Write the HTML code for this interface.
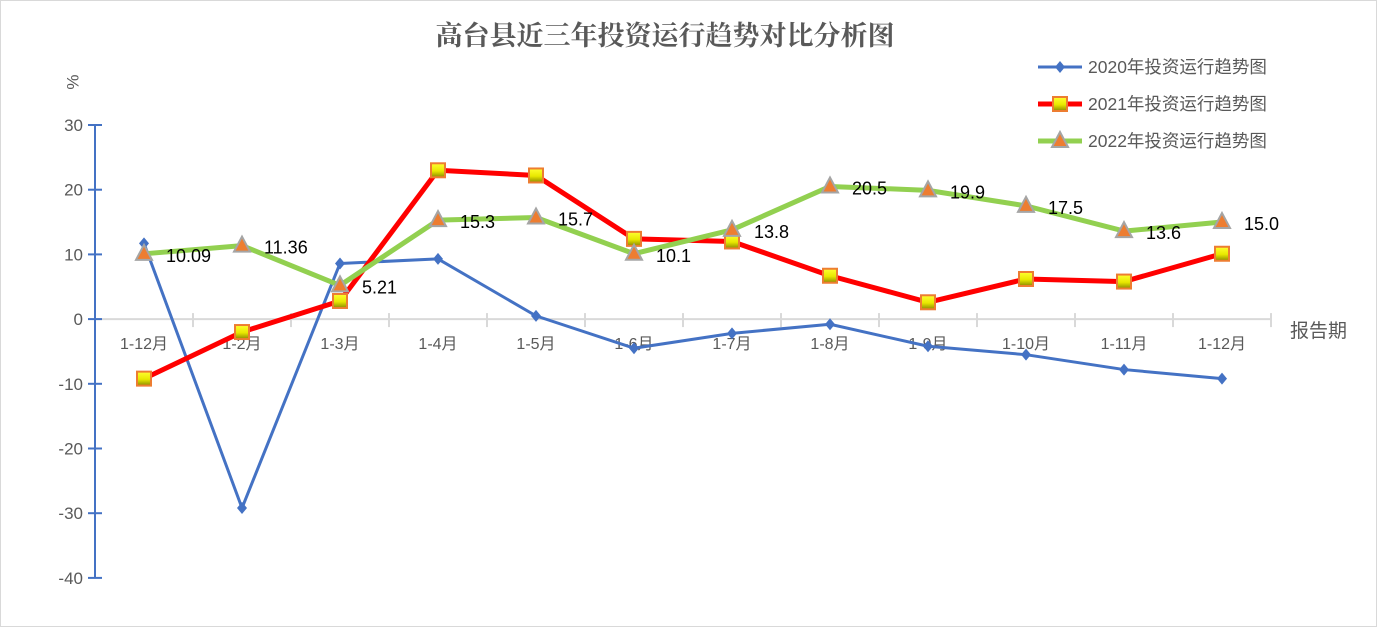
<!DOCTYPE html>
<html><head><meta charset="utf-8"><style>
body{margin:0;background:#fff}
svg{display:block;font-family:"Liberation Sans","Noto Sans CJK SC",sans-serif}
</style></head><body>
<svg width="1377" height="627">
<defs>
<linearGradient id="sq" x1="0" y1="0" x2="0" y2="1"><stop offset="0" stop-color="#ffff30"/><stop offset="0.55" stop-color="#e8e800"/><stop offset="1" stop-color="#8a8a00"/></linearGradient>
</defs>
<rect x="0.5" y="0.5" width="1376" height="626" fill="#fff" stroke="#d9d9d9"/>
<text x="665" y="45" text-anchor="middle" font-size="27" font-weight="bold" fill="#595959" font-family="'Liberation Serif','Noto Serif CJK SC',serif">高台县近三年投资运行趋势对比分析图</text>
<text x="74" y="82" font-size="17" fill="#595959" transform="rotate(-90 74 82)" text-anchor="middle" dominant-baseline="middle">%</text>
<text x="1290" y="337" font-size="19" fill="#595959">报告期</text>
<g id="axes"></g>
<g id="series"></g>
<g id="legend"></g>
</svg>
<script>
const categories=["1-12月","1-2月","1-3月","1-4月","1-5月","1-6月","1-7月","1-8月","1-9月","1-10月","1-11月","1-12月"];
const s2020=[11.7,-29.2,8.6,9.3,0.5,-4.5,-2.2,-0.8,-4.2,-5.5,-7.8,-9.2];
const s2021=[-9.2,-2.0,2.8,23.0,22.2,12.4,12.0,6.7,2.6,6.2,5.8,10.1];
const s2022=[10.09,11.36,5.21,15.3,15.7,10.1,13.8,20.5,19.9,17.5,13.6,15.0];
const labels2022=["10.09","11.36","5.21","15.3","15.7","10.1","13.8","20.5","19.9","17.5","13.6","15.0"];
const yTicks=[30,20,10,0,-10,-20,-30,-40];
const legendNames=["2020年投资运行趋势图","2021年投资运行趋势图","2022年投资运行趋势图"];
const NS="http://www.w3.org/2000/svg";
const y=v=>319.1-v*6.47;
const x0=95,step=98;
const x=i=>x0+step*(i+0.5);
function mk(tag,at,parent){const e=document.createElementNS(NS,tag);for(const k in at)e.setAttribute(k,at[k]);parent.appendChild(e);return e;}
const ax=document.getElementById('axes'),se=document.getElementById('series'),lg=document.getElementById('legend');
let e=mk('line',{x1:x0,y1:y(0),x2:x0+step*categories.length,y2:y(0),stroke:'#d9d9d9','stroke-width':2},ax);

for(let i=0;i<=categories.length;i++){e=mk('line',{x1:x0+step*i,y1:y(0)-6,x2:x0+step*i,y2:y(0)+8,stroke:'#d9d9d9','stroke-width':2},ax);
}
categories.forEach((c,i)=>{e=mk('text',{x:x(i),y:349,'text-anchor':'middle','font-size':16,fill:'#595959'},ax);e.textContent=c;
});
e=mk('line',{x1:x0,y1:y(30),x2:x0,y2:y(-40),stroke:'#4472c4','stroke-width':2},ax);

yTicks.forEach(v=>{e=mk('line',{x1:x0-7,y1:y(v),x2:x0+7,y2:y(v),stroke:'#4472c4','stroke-width':2},ax);

e=mk('text',{x:83,y:y(v)+6,'text-anchor':'end','font-size':17,fill:'#595959'},ax);e.textContent=v;
});
function line(vals,color,w,name){const p=vals.map((v,i)=>x(i)+','+y(v)).join(' ');
const l=mk('polyline',{points:p,fill:'none',stroke:color,'stroke-width':w,'stroke-linejoin':'round'},se);
}
function diamond(cx,cy,g){return mk('path',{d:`M${cx} ${cy-6}L${cx+5} ${cy}L${cx} ${cy+6}L${cx-5} ${cy}Z`,fill:'#4472c4'},g);}
function square(cx,cy,g){return mk('rect',{x:cx-7,y:cy-7,width:14,height:14,fill:'url(#sq)',stroke:'#ed7d31','stroke-width':2},g);}
function tri(cx,cy,g){return mk('path',{d:`M${cx} ${cy-9}L${cx+8} ${cy+6}L${cx-8} ${cy+6}Z`,fill:'#ed7d31',stroke:'#a5a5a5','stroke-width':2},g);}
line(s2020,'#4472c4',3,'line-2020');
line(s2021,'#ff0000',5,'line-2021');
line(s2022,'#92d050',5,'line-2022');
s2020.forEach((v,i)=>{const m=diamond(x(i),y(v),se);});
s2021.forEach((v,i)=>{const m=square(x(i),y(v),se);});
s2022.forEach((v,i)=>{const m=tri(x(i),y(v),se);
const t=mk('text',{x:x(i)+22,y:y(v)+8,'font-size':18,fill:'#000'},se);t.textContent=labels2022[i];
});
const ly=[67,104,141],cols=['#4472c4','#ff0000','#92d050'],ws=[3,5,5],mks=[diamond,square,tri];
legendNames.forEach((n,k)=>{const g=mk('g',{},lg);
mk('line',{x1:1038,y1:ly[k],x2:1082,y2:ly[k],stroke:cols[k],'stroke-width':ws[k]},g);
mks[k](1060,ly[k],g);
const t=mk('text',{x:1088,y:ly[k]+6,'font-size':17.5,fill:'#595959'},g);t.textContent=n;});
</script>
</body></html>
